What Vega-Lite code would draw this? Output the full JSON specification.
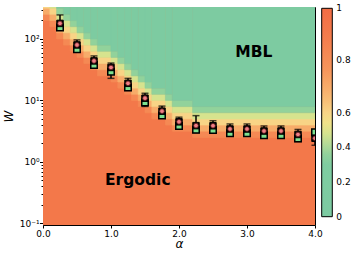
{
  "$schema": "https://vega.github.io/schema/vega-lite/v6.json",
  "width": 272,
  "height": 218,
  "autosize": "none",
  "padding": {"left": 43, "top": 7, "right": 42, "bottom": 31},
  "background": "white",
  "config": {
    "font": "DejaVu Sans",
    "view": {"stroke": "#000", "strokeWidth": 1},
    "legend": {"labelOverlap": false},
    "axis": {"grid": false, "domain": false, "tickColor": "#000", "labelColor": "#000", "labelFontSize": 9, "labelFont": "DejaVu Sans", "titleColor": "#000", "zindex": 1}
  },
  "datasets": {
    "cells": [
      {"x0": 0, "x1": 4, "y0": 0.09, "y1": 398.1, "v": 0.9},
      {"x0": 0, "x1": 0.1, "y0": 199.5, "y1": 251.2, "v": 0.78},
      {"x0": 0, "x1": 0.1, "y0": 251.2, "y1": 316.2, "v": 0.62},
      {"x0": 0, "x1": 0.1, "y0": 316.2, "y1": 398.1, "v": 0.5},
      {"x0": 0.1, "x1": 0.2, "y0": 158.5, "y1": 199.5, "v": 0.78},
      {"x0": 0.1, "x1": 0.2, "y0": 199.5, "y1": 251.2, "v": 0.62},
      {"x0": 0.1, "x1": 0.2, "y0": 251.2, "y1": 316.2, "v": 0.5},
      {"x0": 0.1, "x1": 0.2, "y0": 316.2, "y1": 398.1, "v": 0.4},
      {"x0": 0.2, "x1": 0.3, "y0": 100, "y1": 125.9, "v": 0.78},
      {"x0": 0.2, "x1": 0.3, "y0": 125.9, "y1": 158.5, "v": 0.62},
      {"x0": 0.2, "x1": 0.3, "y0": 158.5, "y1": 199.5, "v": 0.5},
      {"x0": 0.2, "x1": 0.3, "y0": 199.5, "y1": 251.2, "v": 0.4},
      {"x0": 0.2, "x1": 0.3, "y0": 251.2, "y1": 316.2, "v": 0.3},
      {"x0": 0.2, "x1": 0.3, "y0": 316.2, "y1": 398.1, "v": 0.08},
      {"x0": 0.3, "x1": 0.4, "y0": 79.43, "y1": 100, "v": 0.78},
      {"x0": 0.3, "x1": 0.4, "y0": 100, "y1": 125.9, "v": 0.62},
      {"x0": 0.3, "x1": 0.4, "y0": 125.9, "y1": 158.5, "v": 0.5},
      {"x0": 0.3, "x1": 0.4, "y0": 158.5, "y1": 199.5, "v": 0.4},
      {"x0": 0.3, "x1": 0.4, "y0": 199.5, "y1": 251.2, "v": 0.3},
      {"x0": 0.3, "x1": 0.4, "y0": 251.2, "y1": 398.1, "v": 0.08},
      {"x0": 0.4, "x1": 0.5, "y0": 63.1, "y1": 79.43, "v": 0.78},
      {"x0": 0.4, "x1": 0.5, "y0": 79.43, "y1": 100, "v": 0.62},
      {"x0": 0.4, "x1": 0.5, "y0": 100, "y1": 125.9, "v": 0.5},
      {"x0": 0.4, "x1": 0.5, "y0": 125.9, "y1": 158.5, "v": 0.4},
      {"x0": 0.4, "x1": 0.5, "y0": 158.5, "y1": 199.5, "v": 0.3},
      {"x0": 0.4, "x1": 0.5, "y0": 199.5, "y1": 398.1, "v": 0.08},
      {"x0": 0.5, "x1": 0.6, "y0": 50.12, "y1": 63.1, "v": 0.78},
      {"x0": 0.5, "x1": 0.6, "y0": 63.1, "y1": 79.43, "v": 0.62},
      {"x0": 0.5, "x1": 0.6, "y0": 79.43, "y1": 100, "v": 0.5},
      {"x0": 0.5, "x1": 0.6, "y0": 100, "y1": 125.9, "v": 0.4},
      {"x0": 0.5, "x1": 0.6, "y0": 125.9, "y1": 158.5, "v": 0.3},
      {"x0": 0.5, "x1": 0.6, "y0": 158.5, "y1": 398.1, "v": 0.08},
      {"x0": 0.6, "x1": 0.7, "y0": 39.81, "y1": 50.12, "v": 0.78},
      {"x0": 0.6, "x1": 0.7, "y0": 50.12, "y1": 63.1, "v": 0.62},
      {"x0": 0.6, "x1": 0.7, "y0": 63.1, "y1": 79.43, "v": 0.5},
      {"x0": 0.6, "x1": 0.7, "y0": 79.43, "y1": 100, "v": 0.4},
      {"x0": 0.6, "x1": 0.7, "y0": 100, "y1": 125.9, "v": 0.3},
      {"x0": 0.6, "x1": 0.7, "y0": 125.9, "y1": 398.1, "v": 0.08},
      {"x0": 0.7, "x1": 0.8, "y0": 31.62, "y1": 39.81, "v": 0.78},
      {"x0": 0.7, "x1": 0.8, "y0": 39.81, "y1": 50.12, "v": 0.62},
      {"x0": 0.7, "x1": 0.8, "y0": 50.12, "y1": 63.1, "v": 0.5},
      {"x0": 0.7, "x1": 0.8, "y0": 63.1, "y1": 79.43, "v": 0.4},
      {"x0": 0.7, "x1": 0.8, "y0": 79.43, "y1": 100, "v": 0.3},
      {"x0": 0.7, "x1": 0.8, "y0": 100, "y1": 398.1, "v": 0.08},
      {"x0": 0.8, "x1": 1.0, "y0": 25.12, "y1": 31.62, "v": 0.78},
      {"x0": 0.8, "x1": 1.0, "y0": 31.62, "y1": 39.81, "v": 0.62},
      {"x0": 0.8, "x1": 1.0, "y0": 39.81, "y1": 50.12, "v": 0.5},
      {"x0": 0.8, "x1": 1.0, "y0": 50.12, "y1": 63.1, "v": 0.4},
      {"x0": 0.8, "x1": 1.0, "y0": 63.1, "y1": 79.43, "v": 0.3},
      {"x0": 0.8, "x1": 1.0, "y0": 79.43, "y1": 398.1, "v": 0.08},
      {"x0": 1.0, "x1": 1.1, "y0": 19.95, "y1": 25.12, "v": 0.78},
      {"x0": 1.0, "x1": 1.1, "y0": 25.12, "y1": 31.62, "v": 0.62},
      {"x0": 1.0, "x1": 1.1, "y0": 31.62, "y1": 39.81, "v": 0.5},
      {"x0": 1.0, "x1": 1.1, "y0": 39.81, "y1": 50.12, "v": 0.4},
      {"x0": 1.0, "x1": 1.1, "y0": 50.12, "y1": 63.1, "v": 0.3},
      {"x0": 1.0, "x1": 1.1, "y0": 63.1, "y1": 398.1, "v": 0.08},
      {"x0": 1.1, "x1": 1.2, "y0": 15.85, "y1": 19.95, "v": 0.78},
      {"x0": 1.1, "x1": 1.2, "y0": 19.95, "y1": 25.12, "v": 0.62},
      {"x0": 1.1, "x1": 1.2, "y0": 25.12, "y1": 31.62, "v": 0.5},
      {"x0": 1.1, "x1": 1.2, "y0": 31.62, "y1": 39.81, "v": 0.4},
      {"x0": 1.1, "x1": 1.2, "y0": 39.81, "y1": 50.12, "v": 0.3},
      {"x0": 1.1, "x1": 1.2, "y0": 50.12, "y1": 398.1, "v": 0.08},
      {"x0": 1.2, "x1": 1.3, "y0": 12.59, "y1": 15.85, "v": 0.78},
      {"x0": 1.2, "x1": 1.3, "y0": 15.85, "y1": 19.95, "v": 0.62},
      {"x0": 1.2, "x1": 1.3, "y0": 19.95, "y1": 25.12, "v": 0.5},
      {"x0": 1.2, "x1": 1.3, "y0": 25.12, "y1": 31.62, "v": 0.4},
      {"x0": 1.2, "x1": 1.3, "y0": 31.62, "y1": 39.81, "v": 0.3},
      {"x0": 1.2, "x1": 1.3, "y0": 39.81, "y1": 398.1, "v": 0.08},
      {"x0": 1.3, "x1": 1.4, "y0": 10, "y1": 12.59, "v": 0.78},
      {"x0": 1.3, "x1": 1.4, "y0": 12.59, "y1": 15.85, "v": 0.62},
      {"x0": 1.3, "x1": 1.4, "y0": 15.85, "y1": 19.95, "v": 0.5},
      {"x0": 1.3, "x1": 1.4, "y0": 19.95, "y1": 25.12, "v": 0.4},
      {"x0": 1.3, "x1": 1.4, "y0": 25.12, "y1": 31.62, "v": 0.3},
      {"x0": 1.3, "x1": 1.4, "y0": 31.62, "y1": 398.1, "v": 0.08},
      {"x0": 1.4, "x1": 1.5, "y0": 7.943, "y1": 10, "v": 0.78},
      {"x0": 1.4, "x1": 1.5, "y0": 10, "y1": 12.59, "v": 0.62},
      {"x0": 1.4, "x1": 1.5, "y0": 12.59, "y1": 15.85, "v": 0.5},
      {"x0": 1.4, "x1": 1.5, "y0": 15.85, "y1": 19.95, "v": 0.4},
      {"x0": 1.4, "x1": 1.5, "y0": 19.95, "y1": 25.12, "v": 0.3},
      {"x0": 1.4, "x1": 1.5, "y0": 25.12, "y1": 398.1, "v": 0.08},
      {"x0": 1.5, "x1": 1.6, "y0": 6.31, "y1": 7.943, "v": 0.78},
      {"x0": 1.5, "x1": 1.6, "y0": 7.943, "y1": 10, "v": 0.62},
      {"x0": 1.5, "x1": 1.6, "y0": 10, "y1": 12.59, "v": 0.5},
      {"x0": 1.5, "x1": 1.6, "y0": 12.59, "y1": 15.85, "v": 0.4},
      {"x0": 1.5, "x1": 1.6, "y0": 15.85, "y1": 19.95, "v": 0.3},
      {"x0": 1.5, "x1": 1.6, "y0": 19.95, "y1": 398.1, "v": 0.08},
      {"x0": 1.6, "x1": 1.8, "y0": 5.012, "y1": 6.31, "v": 0.78},
      {"x0": 1.6, "x1": 1.8, "y0": 6.31, "y1": 7.943, "v": 0.62},
      {"x0": 1.6, "x1": 1.8, "y0": 7.943, "y1": 10, "v": 0.5},
      {"x0": 1.6, "x1": 1.8, "y0": 10, "y1": 12.59, "v": 0.4},
      {"x0": 1.6, "x1": 1.8, "y0": 12.59, "y1": 15.85, "v": 0.3},
      {"x0": 1.6, "x1": 1.8, "y0": 15.85, "y1": 398.1, "v": 0.08},
      {"x0": 1.8, "x1": 1.9, "y0": 3.981, "y1": 5.012, "v": 0.78},
      {"x0": 1.8, "x1": 1.9, "y0": 5.012, "y1": 6.31, "v": 0.62},
      {"x0": 1.8, "x1": 1.9, "y0": 6.31, "y1": 7.943, "v": 0.5},
      {"x0": 1.8, "x1": 1.9, "y0": 7.943, "y1": 10, "v": 0.4},
      {"x0": 1.8, "x1": 1.9, "y0": 10, "y1": 12.59, "v": 0.3},
      {"x0": 1.8, "x1": 1.9, "y0": 12.59, "y1": 398.1, "v": 0.08},
      {"x0": 1.9, "x1": 2.2, "y0": 3.162, "y1": 3.981, "v": 0.78},
      {"x0": 1.9, "x1": 2.2, "y0": 3.981, "y1": 5.012, "v": 0.62},
      {"x0": 1.9, "x1": 2.2, "y0": 5.012, "y1": 6.31, "v": 0.5},
      {"x0": 1.9, "x1": 2.2, "y0": 6.31, "y1": 7.943, "v": 0.4},
      {"x0": 1.9, "x1": 2.2, "y0": 7.943, "y1": 10, "v": 0.3},
      {"x0": 1.9, "x1": 2.2, "y0": 10, "y1": 398.1, "v": 0.08},
      {"x0": 2.2, "x1": 4.0, "y0": 2.512, "y1": 3.162, "v": 0.78},
      {"x0": 2.2, "x1": 4.0, "y0": 3.162, "y1": 3.981, "v": 0.62},
      {"x0": 2.2, "x1": 4.0, "y0": 3.981, "y1": 5.012, "v": 0.5},
      {"x0": 2.2, "x1": 4.0, "y0": 5.012, "y1": 6.31, "v": 0.4},
      {"x0": 2.2, "x1": 4.0, "y0": 6.31, "y1": 7.943, "v": 0.3},
      {"x0": 2.2, "x1": 4.0, "y0": 7.943, "y1": 398.1, "v": 0.08}
    ],
    "points": [
      {"alpha": 0.25, "W": 179, "Wg": 153, "lo": 140, "hi": 246},
      {"alpha": 0.5, "W": 80, "Wg": 68, "lo": 61.5, "hi": 96.5},
      {"alpha": 0.75, "W": 44, "Wg": 37.6, "lo": 33.8, "hi": 53},
      {"alpha": 1.0, "W": 34.4, "Wg": 29.4, "lo": 22.9, "hi": 40.6},
      {"alpha": 1.25, "W": 19, "Wg": 16.2, "lo": 14.6, "hi": 22.9},
      {"alpha": 1.5, "W": 10.9, "Wg": 9.3, "lo": 8.0, "hi": 13.1},
      {"alpha": 1.75, "W": 6.7, "Wg": 5.7, "lo": 5.15, "hi": 8.1},
      {"alpha": 2.0, "W": 4.5, "Wg": 3.85, "lo": 3.55, "hi": 5.35},
      {"alpha": 2.25, "W": 3.9, "Wg": 3.35, "lo": 3.0, "hi": 5.67},
      {"alpha": 2.5, "W": 3.88, "Wg": 3.3, "lo": 2.98, "hi": 4.68},
      {"alpha": 2.75, "W": 3.44, "Wg": 2.94, "lo": 2.65, "hi": 4.15},
      {"alpha": 3.0, "W": 3.44, "Wg": 2.94, "lo": 2.65, "hi": 4.15},
      {"alpha": 3.25, "W": 3.19, "Wg": 2.73, "lo": 2.45, "hi": 3.85},
      {"alpha": 3.5, "W": 3.19, "Wg": 2.73, "lo": 2.45, "hi": 3.85},
      {"alpha": 3.75, "W": 2.8, "Wg": 2.4, "lo": 2.15, "hi": 3.38},
      {"alpha": 4.0, "W": 2.43, "Wg": 3.04, "lo": 1.87, "hi": 2.93}
    ],
    "labels": [
      {"alpha": 3.10, "W": 50.4, "label": "MBL"},
      {"alpha": 1.394, "W": 0.423, "label": "Ergodic"}
    ]
  },
  "layer": [
    {
      "data": {"name": "cells"},
      "mark": {"type": "rect", "clip": true, "strokeWidth": 0.6, "stroke": {"expr": "scale('color', datum.v)"}},
      "encoding": {
        "x": {"field": "x0", "type": "quantitative", "title": "α",
          "scale": {"domain": [0, 4], "nice": false, "zero": false},
          "axis": {"values": [0, 0.5, 1, 1.5, 2, 2.5, 3, 3.5, 4], "format": ".1f", "labelFlush": false, "tickSize": 3, "labelPadding": 1,
            "titleFontStyle": "italic", "titleFontWeight": "normal", "titleFontSize": 12, "titleFont": "DejaVu Sans", "titleY": 22.5, "titleBaseline": "alphabetic"}},
        "x2": {"field": "x1"},
        "y": {"field": "y0", "type": "quantitative", "title": "W",
          "scale": {"type": "log", "domain": [0.0945, 331], "nice": false},
          "axis": {"values": [0.1, 0.2, 0.3, 0.4, 0.5, 0.6, 0.7, 0.8, 0.9, 1, 2, 3, 4, 5, 6, 7, 8, 9, 10, 20, 30, 40, 50, 60, 70, 80, 90, 100, 200, 300],
            "labelExpr": "datum.value == 100 ? '10²' : datum.value == 10 ? '10¹' : datum.value == 1 ? '10⁰' : abs(datum.value - 0.1) < 1e-9 ? '10⁻¹' : ''",
            "labelOverlap": false,
            "tickSize": {"condition": {"test": "datum.value == 100 || datum.value == 10 || datum.value == 1 || abs(datum.value - 0.1) < 1e-9", "value": 3.5}, "value": 2},
            "labelPadding": 0.5,
            "titleFontStyle": "italic", "titleFontWeight": "normal", "titleFontSize": 12, "titleFont": "DejaVu Sans", "titleAngle": 270, "titleX": -30.6, "titleY": 109, "titleAlign": "center", "titleBaseline": "alphabetic"}},
        "y2": {"field": "y1"},
        "color": {"field": "v", "type": "quantitative",
          "scale": {"domain": [0, 0.27, 0.35, 0.43, 0.5, 0.58, 0.7, 0.85, 1],
                    "range": ["#7ccba2", "#7fcca0", "#b5db96", "#ece78c", "#f8d486", "#f8b672", "#f6965c", "#f47e4e", "#f26c44"]},
          "legend": {"type": "gradient", "orient": "none", "legendX": 278.7, "legendY": 1.3, "direction": "vertical", "title": null,
            "gradientLength": 208.4, "gradientThickness": 10.6, "gradientStrokeColor": "#000", "gradientStrokeWidth": 1,
            "values": [0, 0.16667, 0.33333, 0.5, 0.66667, 0.75, 0.83333, 1],
            "labelOverlap": false,
            "labelExpr": "abs(datum.value) < 0.01 ? '0' : abs(datum.value - 0.16667) < 0.01 ? '0.2' : abs(datum.value - 0.33333) < 0.01 ? '0.4' : abs(datum.value - 0.5) < 0.01 ? '0.6' : abs(datum.value - 0.75) < 0.01 ? '0.8' : abs(datum.value - 1) < 0.01 ? '1' : ''",
            "labelFont": "DejaVu Sans", "labelFontSize": 9, "labelColor": "#000", "labelOffset": 4,
            "encode": {"labels": {"update": {"baseline": {"value": "middle"}}}}}}
      }
    },
    {
      "data": {"name": "points"},
      "mark": {"type": "rule", "clip": true, "color": "#000", "strokeWidth": 1.5},
      "encoding": {
        "x": {"field": "alpha", "type": "quantitative", "title": "α"},
        "y": {"field": "lo", "type": "quantitative", "title": "W"},
        "y2": {"field": "hi"}
      }
    },
    {
      "data": {"name": "points"},
      "mark": {"type": "tick", "clip": true, "orient": "horizontal", "color": "#000", "size": 7, "thickness": 1.5},
      "encoding": {
        "x": {"field": "alpha", "type": "quantitative", "title": "α"},
        "y": {"field": "lo", "type": "quantitative", "title": "W"}
      }
    },
    {
      "data": {"name": "points"},
      "mark": {"type": "tick", "clip": true, "orient": "horizontal", "color": "#000", "size": 7, "thickness": 1.5},
      "encoding": {
        "x": {"field": "alpha", "type": "quantitative", "title": "α"},
        "y": {"field": "hi", "type": "quantitative", "title": "W"}
      }
    },
    {
      "data": {"name": "points"},
      "mark": {"type": "point", "clip": true, "shape": "square", "filled": true, "fill": "#7ee08f", "stroke": "#000", "strokeWidth": 1.5, "size": 42, "opacity": 1},
      "encoding": {
        "x": {"field": "alpha", "type": "quantitative", "title": "α"},
        "y": {"field": "Wg", "type": "quantitative", "title": "W"}
      }
    },
    {
      "data": {"name": "points"},
      "mark": {"type": "point", "clip": true, "shape": "square", "filled": true, "fill": "#000", "stroke": "#000", "strokeWidth": 1, "size": 42, "opacity": 1},
      "encoding": {
        "x": {"field": "alpha", "type": "quantitative", "title": "α"},
        "y": {"field": "W", "type": "quantitative", "title": "W"}
      }
    },
    {
      "data": {"name": "points"},
      "mark": {"type": "point", "clip": true, "shape": "circle", "filled": true, "fill": "#f07f86", "stroke": "#5a1a1a", "strokeWidth": 0.8, "size": 22, "opacity": 1},
      "encoding": {
        "x": {"field": "alpha", "type": "quantitative", "title": "α"},
        "y": {"field": "W", "type": "quantitative", "title": "W"}
      }
    },
    {
      "data": {"name": "labels"},
      "mark": {"type": "text", "font": "DejaVu Sans", "fontWeight": "bold", "fontSize": 15.5, "align": "center", "baseline": "alphabetic", "color": "#000"},
      "encoding": {
        "x": {"field": "alpha", "type": "quantitative", "title": "α"},
        "y": {"field": "W", "type": "quantitative", "title": "W"},
        "text": {"field": "label"}
      }
    }
  ]
}
